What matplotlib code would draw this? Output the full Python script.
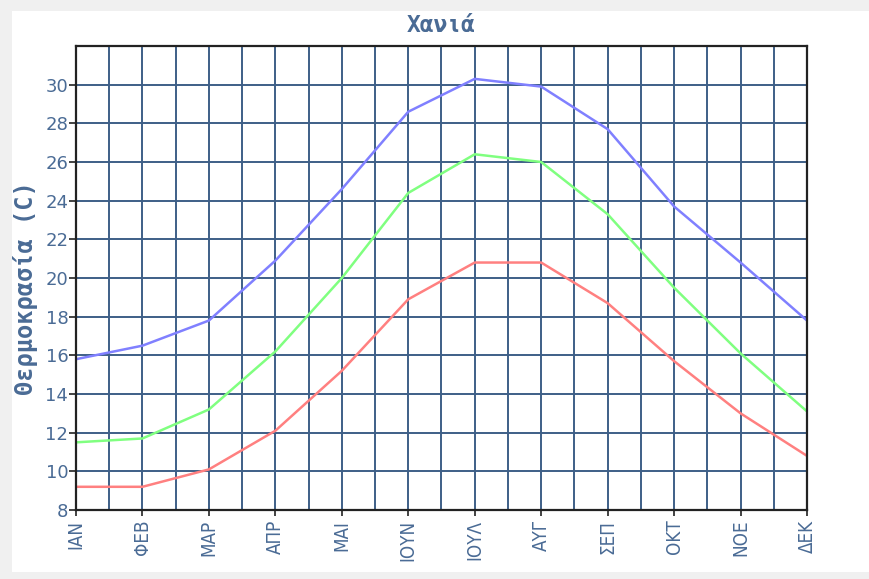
import matplotlib
matplotlib.use("Agg")
import matplotlib.pyplot as plt
from matplotlib.patches import Rectangle
import numpy as np

months = ["ΙΑΝ", "ΦΕΒ", "ΜΑΡ", "ΑΠΡ", "ΜΑΙ", "ΙΟΥΝ", "ΙΟΥΛ", "ΑΥΓ", "ΣΕΠ", "ΟΚΤ", "ΝΟΕ", "ΔΕΚ"]
t_max = [15.8, 16.5, 17.8, 20.9, 24.6, 28.6, 30.3, 29.9, 27.7, 23.7, 20.8, 17.8]
t_mean = [11.5, 11.7, 13.2, 16.2, 20.0, 24.4, 26.4, 26.0, 23.3, 19.5, 16.1, 13.1]
t_min = [9.2, 9.2, 10.1, 12.1, 15.2, 18.9, 20.8, 20.8, 18.7, 15.7, 13.0, 10.8]
y_ticks = [8, 10, 12, 14, 16, 18, 20, 22, 24, 26, 28, 30]
title = "Χανιά"
ylabel = "Θερμοκρασία (C)"

W, H = 869, 579
fig = plt.figure(figsize=(W / 100, H / 100), dpi=100, facecolor="#f0f0f0")
fig.patches.append(Rectangle((12 / W, 7 / H), 1 - 12 / W, (579 - 11 - 7) / H,
                             transform=fig.transFigure, facecolor="white",
                             edgecolor="none", zorder=0))

ax = fig.add_axes([76 / W, (579 - 510) / H, (807 - 76) / W, (510 - 46) / H])
ax.set_zorder(2)
ax.set_facecolor("white")

text_c = "#4a6b95"
grid_c = "#3e5f87"

x = np.arange(len(months))
ax.plot(x, t_max, color="#8080ff", lw=1.8, zorder=3, solid_capstyle="butt")
ax.plot(x, t_mean, color="#80ff80", lw=1.8, zorder=3, solid_capstyle="butt")
ax.plot(x, t_min, color="#ff8080", lw=1.8, zorder=3, solid_capstyle="butt")

ax.set_xlim(0, 11)
ax.set_ylim(8, 32)
ax.set_xticks(x)
ax.set_xticks(x[:-1] + 0.5, minor=True)
ax.set_xticklabels(months, rotation=90, family="DejaVu Sans", fontstretch="condensed",
                   fontsize=13.5, color=text_c, va="top")
ax.set_yticks(y_ticks)
ax.set_yticklabels([str(v) for v in y_ticks], fontsize=13, color=text_c)
ax.grid(True, which="both", color=grid_c, lw=1.4, zorder=1)
ax.set_axisbelow(True)
ax.tick_params(axis="y", length=5, width=1.2, color="#222222", pad=0.5)
ax.tick_params(axis="x", which="major", length=4, width=1.2, color="#222222", pad=3)
ax.tick_params(axis="x", which="minor", length=0)
for s in ax.spines.values():
    s.set_color("#222222")
    s.set_linewidth(1.6)
    s.set_zorder(4)

fig.text((76 + 807) / 2 / W, 1 - 25 / H, title, ha="center", va="center",
         family="DejaVu Sans Mono", fontweight="bold", fontsize=16.5, color=text_c)
fig.text(26 / W, 1 - 288 / H, ylabel, ha="center", va="center", rotation=90,
         family="DejaVu Sans Mono", fontweight="bold", fontsize=17, color=text_c)

fig.savefig("out.png", dpi=100, facecolor=fig.get_facecolor())
